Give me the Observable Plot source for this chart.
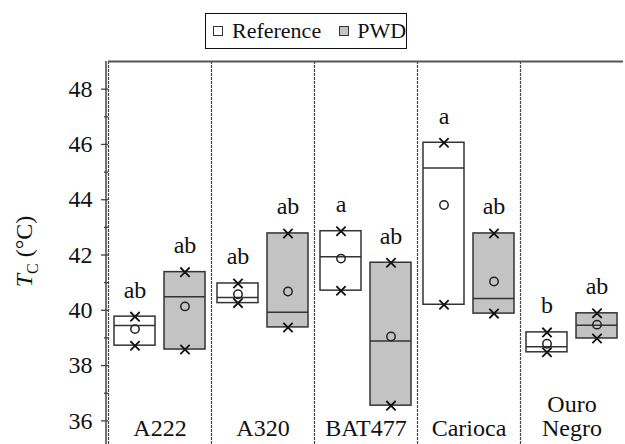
<!DOCTYPE html>
<html>
<head>
<meta charset="utf-8">
<script src="https://cdn.jsdelivr.net/npm/d3@7"></script>
<script src="https://cdn.jsdelivr.net/npm/@observablehq/plot@0.6"></script>
<style>
  html, body { margin: 0; padding: 0; background: white; overflow: hidden; }
  #top { position: relative; height: 60px; width: 625px; }
  #legend { position: absolute; left: 205px; top: 13px; width: 200px; height: 34px;
    border: 1.5px solid #111; display: flex; align-items: center; color: #111; box-sizing: content-box; }
  .sw { width: 8px; height: 8px; border: 1.3px solid #333; display: inline-block; }
  .item { display: flex; align-items: center; }
</style>
</head>
<body>
<div id="top">
  <div id="legend">
    <span class="item" style="margin-left:7px"><span class="sw" style="background:#fff"></span><span style="margin-left:9px">Reference</span></span>
    <span class="item" style="margin-left:18px"><span class="sw" style="background:#c3c3c3"></span><span style="margin-left:8px">PWD</span></span>
  </div>
</div>
<div id="chart"></div>
<script>
const categories = ["A222", "A320", "BAT477", "Carioca", "Ouro Negro"];
const categoryLabels = ["A222", "A320", "BAT477", "Carioca", "Ouro\nNegro"];
const series = ["Reference", "PWD"];

const refMin    = [38.72, 40.26, 40.71, 40.20, 38.48];
const refMax    = [39.77, 40.97, 42.86, 46.06, 39.20];
const refMedian = [39.45, 40.46, 41.94, 45.15, 38.68];
const refMean   = [39.32, 40.58, 41.87, 43.81, 38.79];
const refLetters = ["ab", "ab", "a", "a", "b"];

const pwdMin    = [38.58, 39.38, 36.55, 39.88, 38.98];
const pwdMax    = [41.38, 42.78, 41.72, 42.78, 39.89];
const pwdMedian = [40.49, 39.93, 38.89, 40.43, 39.46];
const pwdMean   = [40.14, 40.68, 39.05, 41.04, 39.48];
const pwdLetters = ["ab", "ab", "ab", "ab", "ab"];

const majorTicks = [36, 38, 40, 42, 44, 46, 48];
const minorTicks = [37, 39, 41, 43, 45, 47];

function hasFont(name) {
  const c = document.createElement("canvas").getContext("2d");
  const s = "Reference 0123456789 mmmwwwlli";
  c.font = "40px monospace"; const a = c.measureText(s).width;
  c.font = `40px "${name}", monospace`; const b = c.measureText(s).width;
  c.font = "40px sans-serif"; const a2 = c.measureText(s).width;
  c.font = `40px "${name}", sans-serif`; const b2 = c.measureText(s).width;
  return a !== b && a2 !== b2;
}
const timesLike = ["Liberation Serif", "Tinos", "Times New Roman", "Nimbus Roman", "FreeSerif"].find(hasFont);
const FAM = timesLike || "DejaVu Serif";
const FONT = `"${FAM}", "DejaVu Serif", serif`;
const FS = timesLike ? 24 : 20;
const LFS = timesLike ? 22 : 18;
const legend = document.getElementById("legend");
legend.style.fontFamily = FONT;
legend.style.fontSize = LFS + "px";

const rows = [];
categories.forEach((c, i) => {
  rows.push({cat: c, series: "Reference", min: refMin[i], max: refMax[i], median: refMedian[i], mean: refMean[i], letter: refLetters[i]});
  rows.push({cat: c, series: "PWD", min: pwdMin[i], max: pwdMax[i], median: pwdMedian[i], mean: pwdMean[i], letter: pwdLetters[i]});
});
const extremes = rows.flatMap(d => [{cat: d.cat, series: d.series, v: d.min}, {cat: d.cat, series: d.series, v: d.max}]);
const labels = categories.map((c, i) => ({cat: c, label: categoryLabels[i]}));

const W = 625, H = 388, ML = 106, MT = 1, MB = 0;
const plot = Plot.plot({
  width: W, height: H,
  marginLeft: ML, marginRight: 0, marginTop: MT, marginBottom: MB,
  style: {fontFamily: FONT, fontSize: FS + "px", background: "white", color: "#111", overflow: "visible"},
  fx: {domain: categories, padding: 0, axis: null, label: null},
  x: {domain: series, paddingInner: 0.18, paddingOuter: 0.1, axis: null},
  y: {domain: [35, 49], axis: null},
  color: {domain: series, range: ["#ffffff", "#c3c3c3"]},
  marks: [
    Plot.frame({anchor: "left", stroke: "#444", strokeWidth: 1.2, strokeDasharray: "2,2"}),
    Plot.ruleY([49], {stroke: "#555", strokeWidth: 2}),
    Plot.axisY({ticks: majorTicks, tickSize: 7, tickPadding: 9, stroke: "#444", strokeWidth: 1.3, fontSize: FS, fill: "#111"}),
    Plot.axisY({ticks: minorTicks, tickSize: 4, text: null, stroke: "#444", strokeWidth: 1.3}),
    Plot.rectY(rows, {fx: "cat", x: "series", y1: "min", y2: "max", fill: "series", stroke: "#333", strokeWidth: 1.5}),
    Plot.tickY(rows, {fx: "cat", x: "series", y: "median", stroke: "#333", strokeWidth: 1.5}),
    Plot.dot(rows, {fx: "cat", x: "series", y: "mean", r: 4.2, stroke: "#222", fill: "none", strokeWidth: 1.5}),
    Plot.dot(extremes, {fx: "cat", x: "series", y: "v", symbol: "times", r: 4.3, stroke: "#111", strokeWidth: 1.8}),
    Plot.text(rows, {fx: "cat", x: "series", y: "max", text: "letter", dy: -19, lineAnchor: "bottom", fontSize: FS, fill: "#111"}),
    Plot.text(labels, {fx: "cat", text: "label", frameAnchor: "bottom", lineAnchor: "bottom", dy: -13, lineHeight: 1.0, fontSize: FS, fill: "#111"})
  ]
});

const svg = d3.select(plot);
svg.append("line").attr("x1", ML).attr("x2", ML).attr("y1", MT).attr("y2", H - MB)
  .attr("stroke", "#444").attr("stroke-width", 1.5);
const yc = (MT + H - MB) / 2 - 3;
const t = svg.append("text")
  .attr("transform", `translate(32,${yc}) rotate(-90)`)
  .attr("text-anchor", "middle")
  .attr("font-size", FS).attr("fill", "#111");
t.append("tspan").attr("font-style", "italic").text("T");
t.append("tspan").attr("font-size", Math.round(FS * 0.67)).attr("dy", 6).text("C");
t.append("tspan").attr("dy", -6).text(" (°C)");
svg.selectAll("text").style("font-family", FONT);
svg.selectAll("g[aria-label*='axis']").style("font-family", FONT);

document.getElementById("chart").appendChild(plot);
</script>
</body>
</html>
